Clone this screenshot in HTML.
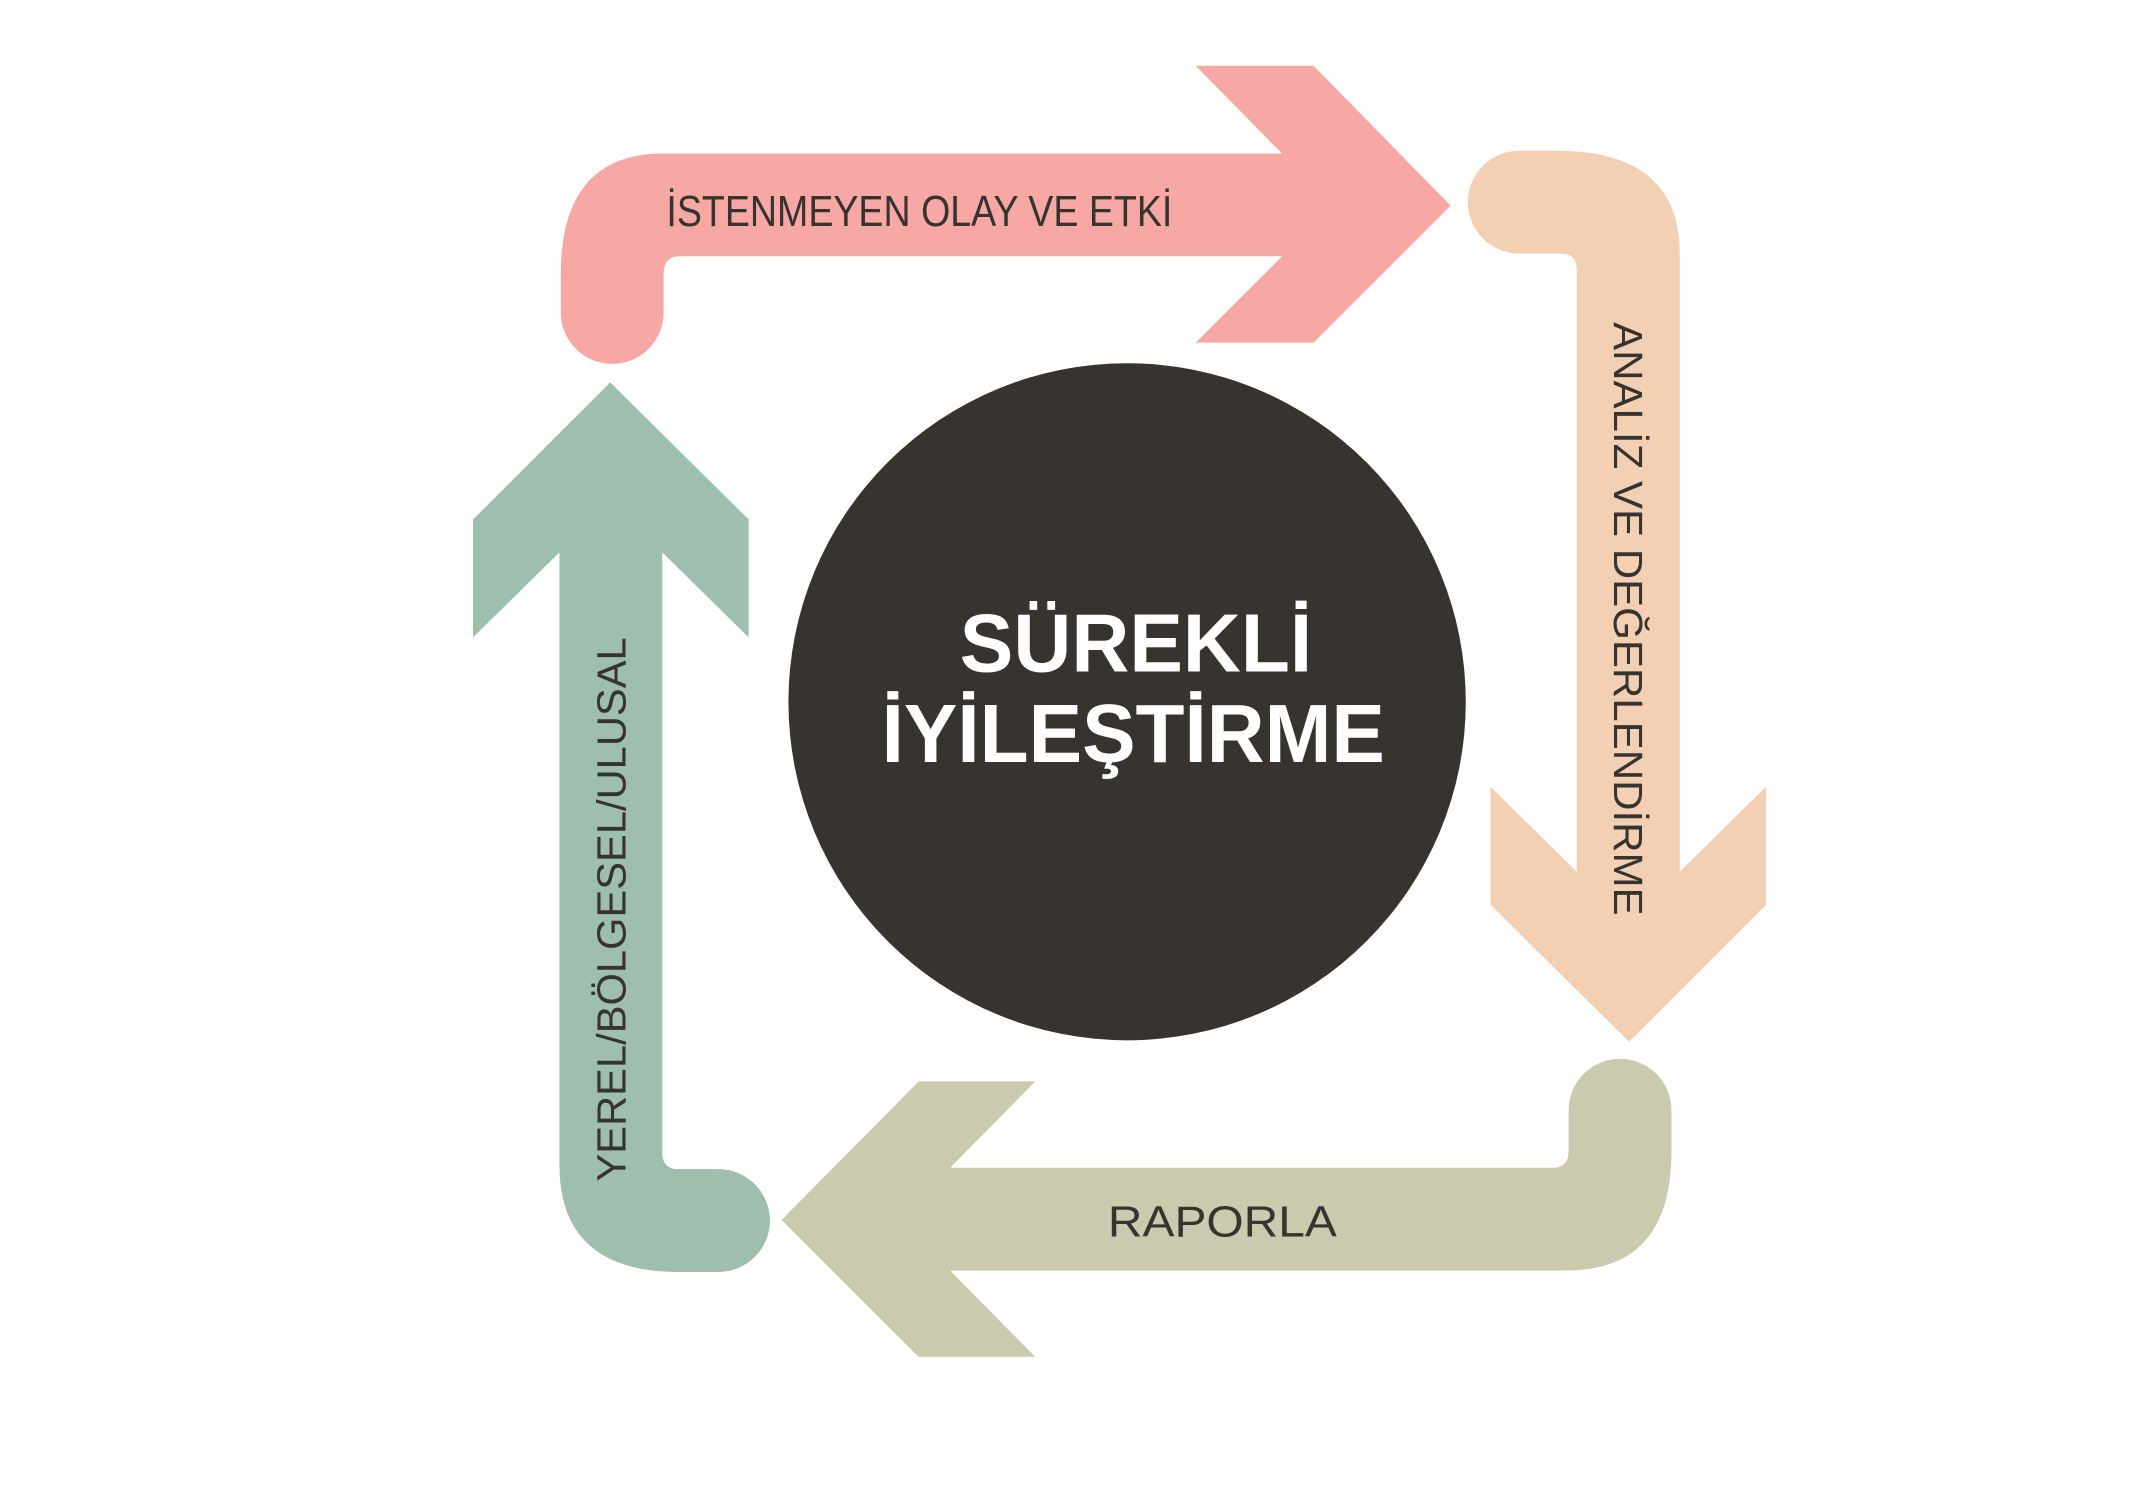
<!DOCTYPE html>
<html><head><meta charset="utf-8"><style>html,body{margin:0;padding:0;background:#fff}svg{display:block}</style></head>
<body>
<svg width="2150" height="1494" viewBox="0 0 1568 1090" preserveAspectRatio="none" xmlns="http://www.w3.org/2000/svg">
<path fill="#f8a8a4" d="M409,228 L409,200 Q409,112 484,112 L935,112 L872,48 L958,48 L1058,150 L958,250 L872,250 L935,187 L496,187 Q484,187 484,199 L484,228 A37.5,37.5 0 0 1 409,228 Z"/>
<path fill="#f3cfb4" d="M1108,110 L1135,110 Q1225,110 1225,185 L1225,636 L1288,574 L1288,660 L1188,760 L1087,660 L1087,574 L1150,636 L1150,197 Q1150,185 1138,185 L1108,185 A37.5,37.5 0 0 1 1108,110 Z"/>
<path fill="#cccaae" d="M1219,810 L1219,840 Q1219,927 1142,927 L693,927 L755,990 L670,990 L570,890 L670,789 L755,789 L693,852 L1132,852 Q1144,852 1144,840 L1144,810 A37.5,37.5 0 0 1 1219,810 Z"/>
<path fill="#9ebfae" d="M524,928 L495,928 Q408,928 408,850 L408,403 L345,465 L345,379 L445,279 L546,379 L546,465 L483,403 L483,841 Q483,853 495,853 L524,853 A37.5,37.5 0 0 1 524,928 Z"/>
<circle cx="822" cy="512" r="247" fill="#37332f"/>
<g font-family="Liberation Sans, DejaVu Sans, sans-serif" fill="#37332f">
<text x="486" y="165" font-size="32" textLength="369" lengthAdjust="spacingAndGlyphs">İSTENMEYEN OLAY VE ETKİ</text>
<text x="808" y="902" font-size="32" textLength="167" lengthAdjust="spacingAndGlyphs">RAPORLA</text>
<text transform="translate(1177,235) rotate(90)" font-size="30" textLength="433" lengthAdjust="spacingAndGlyphs">ANALİZ VE DEĞERLENDİRME</text>
<text transform="translate(456,862) rotate(-90)" font-size="30" textLength="397" lengthAdjust="spacingAndGlyphs">YEREL/BÖLGESEL/ULUSAL</text>
</g>
<g font-family="Liberation Sans, DejaVu Sans, sans-serif" fill="#fff" font-weight="bold">
<text x="700" y="490" font-size="60" textLength="257" lengthAdjust="spacingAndGlyphs">SÜREKLİ</text>
<text x="643" y="556" font-size="60" textLength="367" lengthAdjust="spacingAndGlyphs">İYİLEŞTİRME</text>
</g>
</svg>
</body></html>
